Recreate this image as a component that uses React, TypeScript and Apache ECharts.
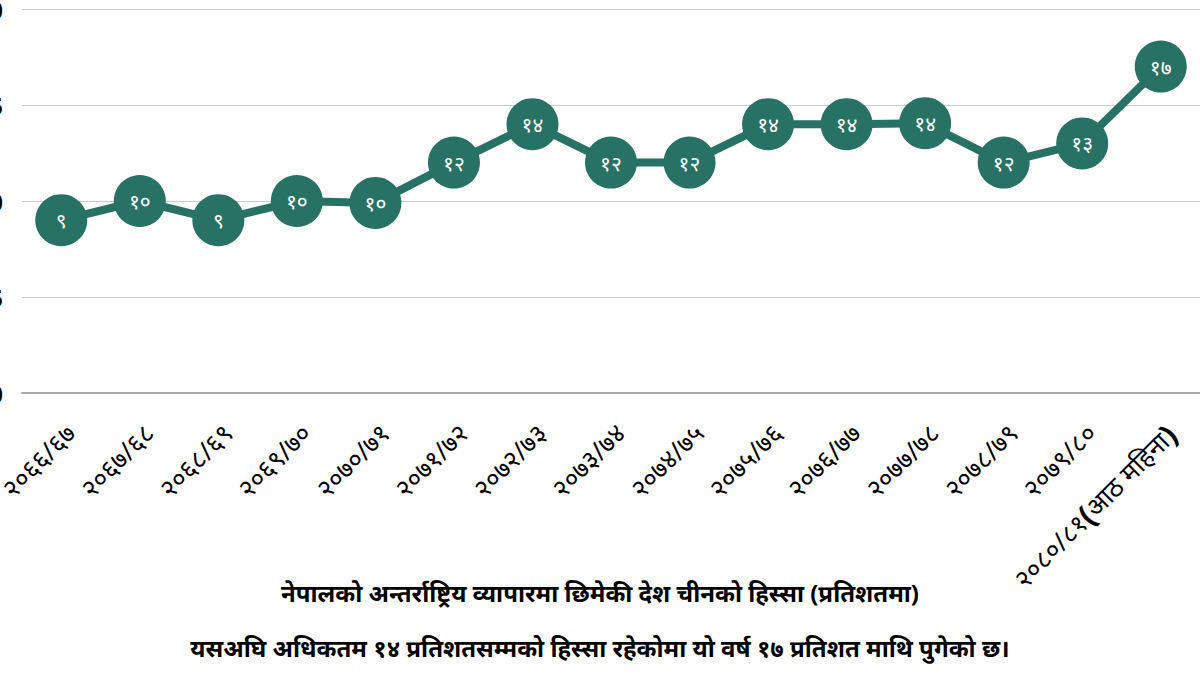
import React, { useEffect, useRef } from "react";
import * as echarts from "echarts";

const categories = [
  "२०६६/६७",
  "२०६७/६८",
  "२०६८/६९",
  "२०६९/७०",
  "२०७०/७१",
  "२०७१/७२",
  "२०७२/७३",
  "२०७३/७४",
  "२०७४/७५",
  "२०७५/७६",
  "२०७६/७७",
  "२०७७/७८",
  "२०७८/७९",
  "२०७९/८०",
  "२०८०/८१(आठ महिना)",
];

const shares = [9, 10, 9, 10, 9.9, 12, 14, 12, 12, 14, 14, 14.05, 12, 13, 17];

const titleText = "नेपालको अन्तर्राष्ट्रिय व्यापारमा छिमेकी देश चीनको हिस्सा (प्रतिशतमा)";
const subtitleText = "यसअघि अधिकतम १४ प्रतिशतसम्मको हिस्सा रहेकोमा यो वर्ष १७ प्रतिशत माथि पुगेको छ।";

const devDigits = ["०", "१", "२", "३", "४", "५", "६", "७", "८", "९"];
const toDev = (n: number) =>
  String(n).replace(/[0-9]/g, (d) => devDigits[Number(d)]);

export default function App() {
  const ref = useRef<HTMLDivElement>(null);
  useEffect(() => {
    if (!ref.current) return;
    const chart = echarts.init(ref.current, undefined, { renderer: "svg" });
    const green = "#277264";
    chart.setOption({
      animation: false,
      backgroundColor: "#ffffff",
      textStyle: { fontFamily: "'Noto Sans', sans-serif" },
      title: [
        {
          text: titleText,
          left: "center",
          top: 575,
          textStyle: { fontSize: 24, fontWeight: "bold", color: "#000" },
        },
        {
          text: subtitleText,
          left: "center",
          top: 630,
          textStyle: { fontSize: 24, fontWeight: "bold", color: "#000" },
        },
      ],
      grid: {
        left: 22,
        right: 0,
        top: 9,
        bottom: 293,
        containLabel: false,
        outerBoundsMode: "none",
      },
      xAxis: {
        type: "category",
        data: categories,
        boundaryGap: true,
        axisLine: { show: true, lineStyle: { color: "#aaaaaa", width: 2 } },
        axisTick: { show: false },
        axisLabel: {
          interval: 0,
          rotate: 45,
          margin: 26,
          fontSize: 26,
          color: "#000",
          verticalAlign: "top",
          formatter: (v: string) => {
            const i = v.indexOf("(");
            if (i < 0) return v;
            return v.slice(0, i) + "{p|(}" + v.slice(i + 1, -1) + "{p|)}";
          },
          rich: {
            p: { fontSize: 30, fontWeight: "bold", color: "#000" },
          },
        },
      },
      yAxis: {
        type: "value",
        min: 0,
        max: 20,
        interval: 5,
        axisLine: { show: false },
        axisTick: { show: false },
        splitLine: { lineStyle: { color: "#cccccc", width: 1 } },
        axisLabel: { margin: 19, fontSize: 24, fontWeight: "bold", color: "#000" },
      },
      series: [
        {
          type: "line",
          data: shares,
          symbol: "circle",
          symbolSize: 52,
          lineStyle: { color: green, width: 8 },
          itemStyle: { color: green },
          label: {
            show: true,
            position: "inside",
            color: "#fff",
            fontSize: 21,
            formatter: (p: any) => toDev(Math.round(p.value)),
          },
        },
      ],
    });
    return () => chart.dispose();
  }, []);
  return (
    <div
      ref={ref}
      style={{ position: "fixed", left: 0, top: 0, width: 1200, height: 686 }}
    />
  );
}
